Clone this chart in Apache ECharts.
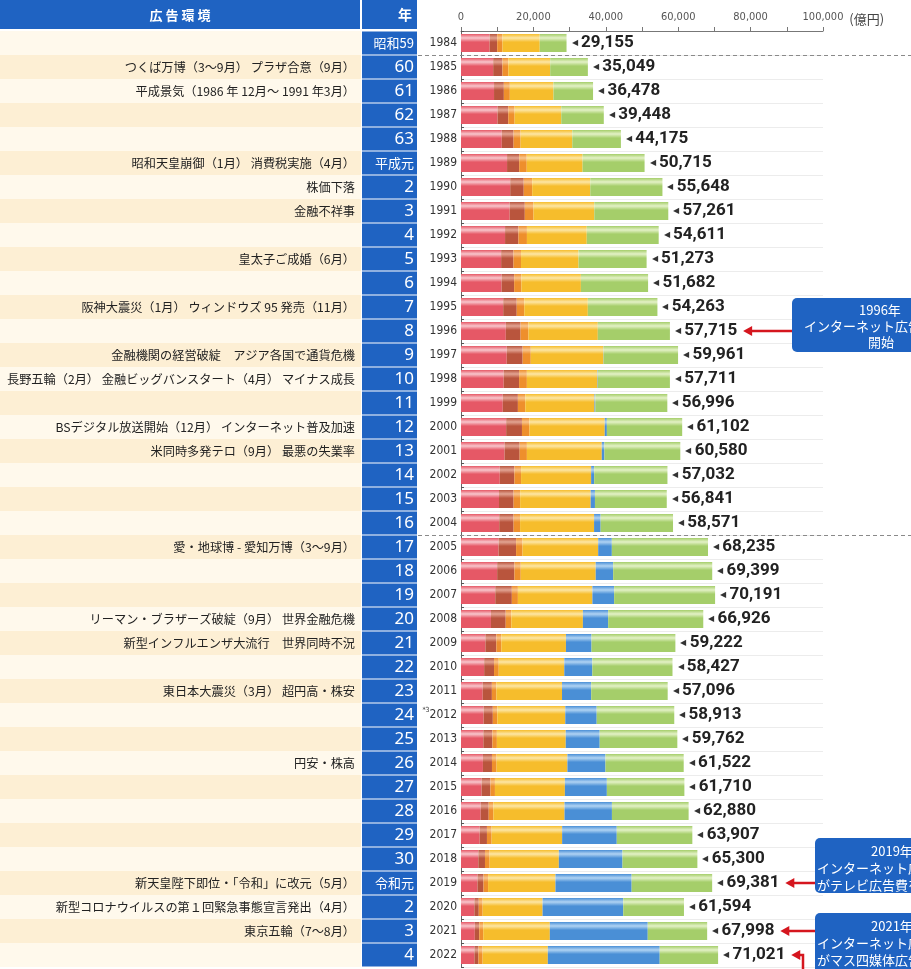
<!DOCTYPE html>
<html lang="ja">
<head>
<meta charset="UTF-8">
<title>日本の広告費の推移</title>
<script src="https://cdn.jsdelivr.net/npm/echarts@6/dist/echarts.min.js"></script>
<style>
html, body { margin: 0; padding: 0; background: #fff; }
#main { width: 911px; height: 969px; }
</style>
</head>
<body>
<div id="main"></div>
<script>
// 年（西暦）
var years = ['1984','1985','1986','1987','1988','1989','1990','1991','1992','1993',
    '1994','1995','1996','1997','1998','1999','2000','2001','2002','2003',
    '2004','2005','2006','2007','2008','2009','2010','2011','2012','2013',
    '2014','2015','2016','2017','2018','2019','2020','2021','2022'];
// 和暦
var eras = ['昭和59','60','61','62','63','平成元','2','3','4','5',
    '6','7','8','9','10','11','12','13','14','15',
    '16','17','18','19','20','21','22','23','24','25',
    '26','27','28','29','30','令和元','2','3','4'];
// 広告環境
var events = [
    '',
    'つくば万博（3～9月） プラザ合意（9月）',
    '平成景気（1986 年 12月～ 1991 年3月）',
    '', '',
    '昭和天皇崩御（1月） 消費税実施（4月）',
    '株価下落',
    '金融不祥事',
    '',
    '皇太子ご成婚（6月）',
    '',
    '阪神大震災（1月） ウィンドウズ 95 発売（11月）',
    '',
    '金融機関の経営破綻　アジア各国で通貨危機',
    '長野五輪（2月） 金融ビッグバンスタート（4月） マイナス成長',
    '',
    'BSデジタル放送開始（12月） インターネット普及加速',
    '米同時多発テロ（9月） 最悪の失業率',
    '', '', '',
    '愛・地球博 - 愛知万博（3～9月）',
    '', '',
    'リーマン・ブラザーズ破綻（9月） 世界金融危機',
    '新型インフルエンザ大流行　世界同時不況',
    '',
    '東日本大震災（3月） 超円高・株安',
    '', '',
    '円安・株高',
    '', '', '', '',
    '新天皇陛下即位・「令和」に改元（5月）',
    '新型コロナウイルスの第１回緊急事態宣言発出（4月）',
    '東京五輪（7～8月）',
    ''
];
// 総広告費（億円）
var totals = [29155,35049,36478,39448,44175,50715,55648,57261,54611,51273,
    51682,54263,57715,59961,57711,56996,61102,60580,57032,56841,
    58571,68235,69399,70191,66926,59222,58427,57096,58913,59762,
    61522,61710,62880,63907,65300,69381,61594,67998,71021];
// 媒体別（億円）
var newspaper = [7900,8887,9127,10086,11267,12725,13592,13445,12172,11087,
    11211,11657,12379,12636,11787,11535,12474,12027,10707,10500,
    10559,10377,9986,9462,8276,6739,6396,5990,6242,6170,
    6057,5679,5431,5147,4784,4547,3688,3815,3697];
var magazine = [2100,2563,2713,2971,3262,3354,3741,4180,3692,3417,
    3473,3743,4073,4395,4258,4183,4369,4180,4051,4035,
    3970,4842,4777,4585,4078,3034,2733,2542,2551,2499,
    2500,2443,2223,2023,1841,1675,1223,1224,1140];
var radio = [1450,1633,1650,1750,1930,2084,2335,2406,2350,2078,
    2002,2082,2181,2247,2153,2043,2071,1998,1837,1807,
    1795,1778,1744,1671,1549,1370,1299,1247,1246,1243,
    1272,1254,1285,1290,1278,1260,1066,1106,1129];
var television = [10300,11557,12060,12890,14285,15427,16046,16793,16526,15891,
    16435,17553,19162,20079,19505,19121,20793,20681,19351,19480,
    20436,20898,20705,20584,19768,17848,18105,18128,18770,19023,
    19564,19323,19657,19478,19123,18612,16559,18393,18019];
var internet = [0,0,0,0,0,0,0,0,0,0,
    0,0,16,60,114,241,590,735,845,1183,
    1814,3777,4826,6003,6983,7069,7747,8062,8680,9381,
    10519,11594,13100,15094,17589,21048,22290,27052,30912];
var promotion = [7405,10409,10928,11751,13431,17125,19934,20437,19871,18800,
    18561,19228,19904,20544,19894,19873,20805,20959,20241,19836,
    19997,26563,27361,27886,26272,23162,22147,21127,21424,21446,
    21610,21417,21184,20875,20685,22239,16768,16408,16124];
var xTicks = [0, 20000, 40000, 60000, 80000, 100000];

var BLUE = '#1f63c2';
var NARROW = '"DejaVu Sans Condensed", sans-serif';
var NUM = 'Roboto, sans-serif';
var JP = '"Noto Sans CJK JP", sans-serif';

var myChart = echarts.init(document.getElementById('main'));

function gloss(base, light) {
    return new echarts.graphic.LinearGradient(0, 0, 0, 1, [
        {offset: 0, color: base},
        {offset: 0.22, color: light},
        {offset: 0.45, color: base},
        {offset: 1, color: base}
    ]);
}

function fmt(n) {
    return String(n).replace(/\B(?=(\d{3})+(?!\d))/g, ',');
}

function barSeries(name, data, base, light) {
    return {
        name: name,
        type: 'bar',
        stack: 'total',
        barWidth: 18,
        xAxisIndex: 0,
        yAxisIndex: 0,
        data: data,
        silent: true,
        itemStyle: {color: gloss(base, light)}
    };
}

var series = [
    barSeries('新聞', newspaper, '#e65866', '#f8c6cc'),
    barSeries('雑誌', magazine, '#b9553d', '#e2a493'),
    barSeries('ラジオ', radio, '#ee8f2c', '#f8c58e'),
    barSeries('テレビ', television, '#f6bd2c', '#fde6a4'),
    barSeries('インターネット', internet, '#4a8fd6', '#b0d3f3'),
    barSeries('プロモーションメディア', promotion, '#a5ce6a', '#e3f1c6')
];
series[5].label = {
    show: true,
    position: 'right',
    distance: 5,
    formatter: function (p) {
        return '{t|◀} {n|' + fmt(totals[p.dataIndex]) + '}';
    },
    rich: {
        t: {fontSize: 8, color: '#333'},
        n: {fontSize: 17, fontWeight: 'bold', fontFamily: NUM, color: '#222'}
    }
};

var option = {
    backgroundColor: '#fff',
    animation: false,
    grid: [
        {left: 461, top: 31, width: 362, bottom: 2, outerBoundsMode: 'none'},
        {left: 0, top: 31, width: 361, bottom: 2, outerBoundsMode: 'none'}
    ],
    xAxis: [
        {
            gridIndex: 0,
            type: 'value',
            position: 'top',
            min: 0,
            max: 100000,
            interval: 10000,
            name: '(億円)',
            nameLocation: 'end',
            nameGap: 22,
            nameTextStyle: {color: '#444', fontSize: 13, fontFamily: JP, verticalAlign: 'bottom', padding: [0, 0, 5, 0]},
            axisLine: {show: true, lineStyle: {color: '#777', width: 1}},
            axisTick: {show: true, length: 4, lineStyle: {color: '#777'}},
            axisLabel: {
                margin: 8,
                color: '#555',
                fontSize: 11,
                fontFamily: NARROW,
                formatter: function (v) {
                    return xTicks.indexOf(v) >= 0 ? fmt(v) : '';
                }
            },
            splitLine: {show: false}
        },
        {gridIndex: 1, type: 'value', show: false, min: 0, max: 1}
    ],
    yAxis: [
        {
            gridIndex: 0,
            type: 'category',
            data: years,
            inverse: true,
            position: 'left',
            axisLine: {show: true, lineStyle: {color: '#666'}},
            axisTick: {show: true, inside: true, length: 3, lineStyle: {color: '#555'}},
            axisLabel: {
                interval: 0,
                margin: 4,
                color: '#333',
                fontSize: 12,
                fontFamily: NARROW,
                formatter: function (v) {
                    return v === '2012' ? '{s|*3}{y|2012}' : v;
                },
                rich: {
                    s: {fontSize: 7, color: '#333', verticalAlign: 'top', padding: [0, 0, 9, 0]},
                    y: {fontSize: 12, fontFamily: NARROW, color: '#333'}
                }
            },
            splitLine: {show: true, lineStyle: {color: '#ececec'}}
        },
        {
            gridIndex: 0,
            type: 'category',
            data: years,
            inverse: true,
            position: 'left',
            offset: 44,
            axisLine: {show: false},
            axisTick: {show: false},
            axisLabel: {
                interval: 0,
                margin: 0,
                backgroundColor: BLUE,
                width: 52,
                height: 23,
                lineHeight: 23,
                padding: [0, 3, 0, 0],
                align: 'right',
                formatter: function (v, i) {
                    var e = eras[i];
                    return /^[0-9]+$/.test(e) ? '{b|' + e + '}' : '{s|' + e + '}';
                },
                rich: {
                    b: {color: '#fff', fontSize: 17, fontFamily: '"Noto Sans", sans-serif', lineHeight: 23},
                    s: {color: '#fff', fontSize: 13, fontFamily: JP, lineHeight: 23}
                }
            }
        },
        {
            gridIndex: 1,
            type: 'category',
            data: years,
            inverse: true,
            position: 'right',
            axisLine: {show: false},
            axisTick: {show: false},
            splitLine: {show: false},
            splitArea: {show: true, areaStyle: {color: ['#fff9ec', '#fdefd4']}},
            axisLabel: {
                interval: 0,
                inside: true,
                margin: 6,
                color: '#222',
                fontSize: 12.2,
                fontFamily: JP,
                formatter: function (v, i) { return events[i]; }
            }
        }
    ],
    series: series
};
myChart.setOption(option);

// 注記・区切り線
function rowY(i) {
    return myChart.convertToPixel({yAxisIndex: 0}, years[i]);
}
function valX(v) {
    return myChart.convertToPixel({xAxisIndex: 0}, v);
}
var measure = document.createElement('canvas').getContext('2d');
function labelEnd(i) {
    measure.font = 'bold 17px ' + NUM;
    var w = measure.measureText(fmt(totals[i])).width;
    measure.font = '8px sans-serif';
    var t = measure.measureText('◀ ').width + 3;
    return valX(totals[i]) + 5 + t + w;
}
function arrowHead(x, y) {
    return {type: 'polygon', z: 20, shape: {points: [[x, y], [x + 9, y - 5], [x + 9, y + 5]]}, style: {fill: '#d5161e'}};
}
function arrowLine(points) {
    return {type: 'polyline', z: 20, shape: {points: points}, style: {stroke: '#d5161e', lineWidth: 2.5, fill: null}};
}
function note(x, y, h, lines) {
    var g = [{type: 'rect', z: 15, shape: {x: x, y: y, width: 160, height: h, r: 5}, style: {fill: BLUE}}];
    lines.forEach(function (l) {
        g.push({type: 'text', z: 16, style: {x: l[0], y: l[1], text: l[2], fill: '#fff', fontSize: 13, fontFamily: JP, textAlign: 'left', textVerticalAlign: 'middle'}});
    });
    return g;
}

var graphics = [];
// 見出し
graphics.push({type: 'rect', shape: {x: 0, y: 0, width: 360, height: 29}, style: {fill: BLUE}});
graphics.push({type: 'rect', shape: {x: 362, y: 0, width: 55, height: 29}, style: {fill: BLUE}});
graphics.push({type: 'text', style: {x: 180, y: 15, text: '広 告 環 境', fill: '#fff', fontSize: 13, fontWeight: 'bold', fontFamily: JP, textAlign: 'center', textVerticalAlign: 'middle'}});
graphics.push({type: 'text', style: {x: 412, y: 15, text: '年', fill: '#fff', fontSize: 14, fontWeight: 'bold', fontFamily: JP, textAlign: 'right', textVerticalAlign: 'middle'}});

// 統計区切り（破線）
[1, 21].forEach(function (i) {
    var y = Math.round((rowY(i - 1) + rowY(i)) / 2) + 0.5;
    graphics.push({type: 'line', z: 10, shape: {x1: 418, y1: y, x2: 911, y2: y}, style: {stroke: '#8a8a8a', lineWidth: 1, lineDash: [4, 3]}});
});

// 1996
var y96 = rowY(12), t96 = labelEnd(12) + 4;
graphics = graphics.concat(note(792, 298, 54, [[859, 310, '1996年'], [804, 326, 'インターネット広告費'], [868, 342, '開始']]));
graphics.push(arrowLine([[792, y96], [t96 + 6, y96]]));
graphics.push(arrowHead(t96, y96));
// 2019
var y19 = rowY(35), t19 = labelEnd(35) + 4;
graphics = graphics.concat(note(815, 838, 55, [[871, 851, '2019年'], [817, 868, 'インターネット広告費'], [817, 885, 'がテレビ広告費を超える']]));
graphics.push(arrowLine([[815, y19], [t19 + 6, y19]]));
graphics.push(arrowHead(t19, y19));
// 2021
var y21 = rowY(37), t21 = labelEnd(37) + 4;
graphics = graphics.concat(note(815, 913, 70, [[871, 926, '2021年'], [817, 943, 'インターネット広告費'], [817, 960, 'がマス四媒体広告費を超える']]));
graphics.push(arrowLine([[815, y21], [t21 + 6, y21]]));
graphics.push(arrowHead(t21, y21));
var y22 = rowY(38), t22 = labelEnd(38) + 4;
graphics.push(arrowLine([[803, 969], [803, y22], [t22 + 6, y22]]));
graphics.push(arrowHead(t22, y22));

myChart.setOption({graphic: graphics});

window.addEventListener('resize', function () {
    myChart.resize();
});
</script>
</body>
</html>
